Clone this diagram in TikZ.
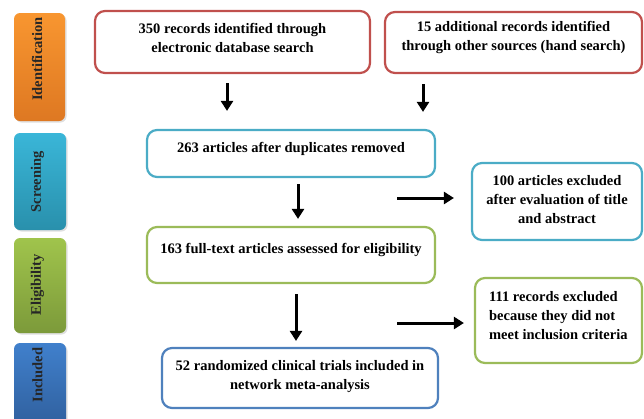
\documentclass[tikz,border=0pt]{standalone}
\usepackage{fontspec}
\setmainfont{Liberation Serif}
\usetikzlibrary{arrows.meta,shadows}
\definecolor{bred}{HTML}{C0504D}
\definecolor{bcyan}{HTML}{4BACC6}
\definecolor{bgreen}{HTML}{9BBB59}
\definecolor{bblue}{HTML}{4F81BD}
\definecolor{otop}{HTML}{F89630}
\definecolor{obot}{HTML}{DE7822}
\definecolor{ctop}{HTML}{3AB6D8}
\definecolor{cbot}{HTML}{2990AC}
\definecolor{gtop}{HTML}{A0C44C}
\definecolor{gbot}{HTML}{7C9A3A}
\definecolor{ltop}{HTML}{4080CC}
\definecolor{lbot}{HTML}{30609E}
\begin{document}
\begin{tikzpicture}[x=1pt,y=-1pt,
  box/.style={draw, line width=2.2pt, rounded corners=10pt, fill=white, inner sep=0pt},
  txt/.style={font=\bfseries\fontsize{14.5}{19}\selectfont, align=center, inner sep=0pt},
  stage/.style={rounded corners=6pt, inner sep=0pt, drop shadow={opacity=0.25, shadow xshift=1.5pt, shadow yshift=-1.5pt}},
  stagetxt/.style={font=\bfseries\fontsize{14.5}{17}\selectfont, rotate=90, inner sep=0pt, text=black!85},
  arr/.style={line width=3pt, -{Triangle[width=12pt,length=10pt]}}
]
\useasboundingbox (0,0) rectangle (644,418);
\clip (0,0) rectangle (644,418);

% stage bars
\node[stage, top color=otop, bottom color=obot, minimum width=51pt, minimum height=108pt] (s1) at (39.5,67) {};
\node[stagetxt] (s1t) at (37,59) {Identification};
\node[stage, top color=ctop, bottom color=cbot, minimum width=52pt, minimum height=97pt] (s2) at (40,181.5) {};
\node[stagetxt] (s2t) at (37.5,182) {Screening};
\node[stage, top color=gtop, bottom color=gbot, minimum width=52pt, minimum height=95pt] (s3) at (40,285.5) {};
\node[stagetxt] (s3t) at (37.5,285) {Eligibility};
\node[stage, top color=ltop, bottom color=lbot, minimum width=52pt, minimum height=82pt] (s4) at (40,384) {};
\node[stagetxt] (s4t) at (37.5,375) {Included};

% boxes
\node[box, draw=bred, minimum width=275pt, minimum height=62pt,
  label={[name=t1, txt, yshift=4.5pt]center:{350 records identified through\\electronic database search}}] (b1) at (232.5,42) {};
\node[box, draw=bred, minimum width=257pt, minimum height=61pt,
  label={[name=t2, txt, yshift=5pt]center:{15 additional records identified\\through other sources (hand search)}}] (b2) at (513.5,42.5) {};
\node[box, draw=bcyan, minimum width=288pt, minimum height=47pt,
  label={[name=t3, txt, yshift=5pt]center:{263 articles after duplicates removed}}] (b3) at (291,153.5) {};
\node[box, draw=bcyan, minimum width=170pt, minimum height=77pt,
  label={[name=t4, txt, yshift=1.5pt]center:{100 articles excluded\\after evaluation of title\\and abstract}}] (b4) at (557,201.5) {};
\node[box, draw=bgreen, minimum width=288pt, minimum height=56pt,
  label={[name=t5, txt, yshift=5pt]center:{163 full-text articles assessed for eligibility}}] (b5) at (291,255) {};
\node[box, draw=bgreen, minimum width=167pt, minimum height=85pt,
  label={[name=t6, txt, align=left, anchor=west, xshift=15pt, yshift=4.5pt]west:{111 records excluded\\because they did not\\meet inclusion criteria}}] (b6) at (558.5,320.5) {};
\node[box, draw=bblue, minimum width=276pt, minimum height=60pt,
  label={[name=t7, txt, yshift=1.5pt]center:{52 randomized clinical trials included in\\network meta-analysis}}] (b7) at (300,378) {};

% arrows
\draw[arr, shorten <=9pt, shorten >=18pt] ([xshift=-5.5pt]b1.south) -- ([xshift=-5.5pt]b1.south |- b3.north);
\draw[arr, shorten <=10pt, shorten >=17pt] ([xshift=-90.5pt]b2.south) -- ([xshift=-90.5pt]b2.south |- b3.north);
\draw[arr, shorten <=6pt, shorten >=7pt] ([xshift=7pt]b3.south) -- ([xshift=7pt]b3.south |- b5.north);
\draw[arr, shorten <=10pt, shorten >=6pt] ([xshift=5pt]b5.south) -- ([xshift=5pt]b5.south |- b7.north);
\coordinate (c1) at (397,198);
\coordinate (c2) at (397,323);
\draw[arr, shorten >=17pt] (c1) -- (c1 -| b4.west);
\draw[arr, shorten >=10pt] (c2) -- (c2 -| b6.west);
\end{tikzpicture}
\end{document}
